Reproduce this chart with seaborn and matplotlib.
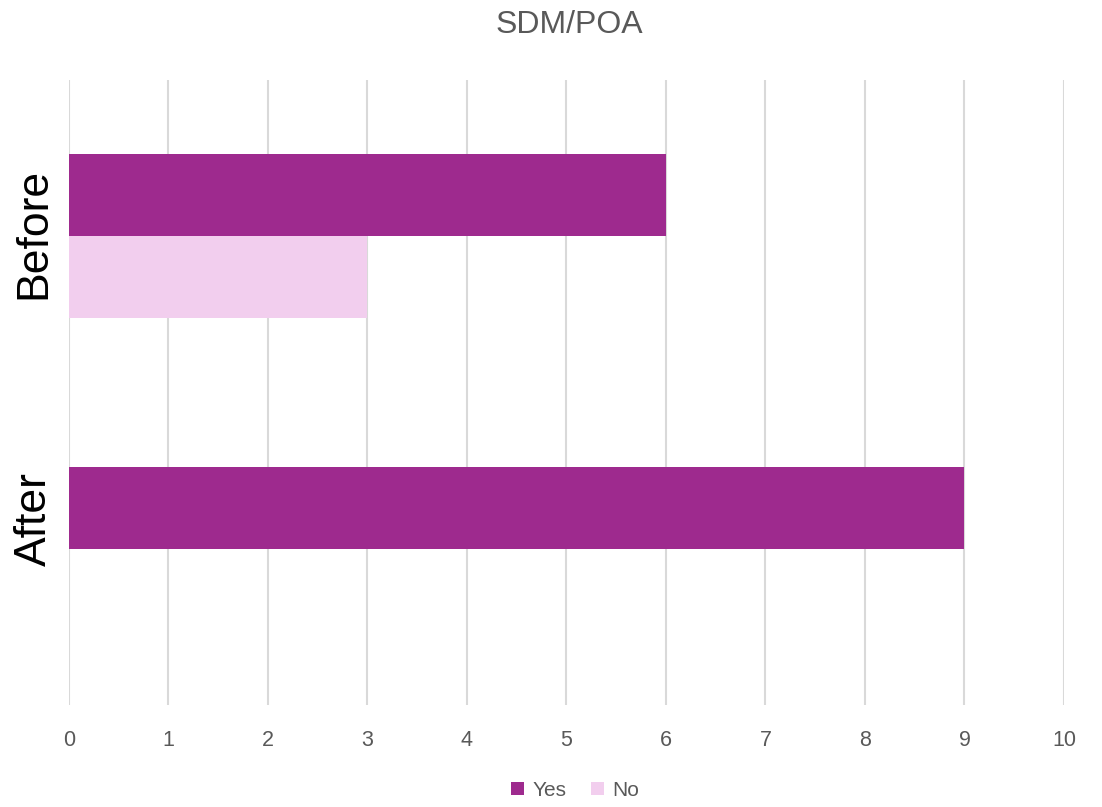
import pandas as pd
import matplotlib
matplotlib.use('Agg')
import matplotlib.pyplot as plt
import seaborn as sns

# data
stages = ['Before', 'After']
yes_counts = [6, 9]
no_counts = [3, 0]
answers = ['Yes', 'No']
colors = ['#9E2A8E', '#F2CEEE']

df = pd.DataFrame({
    'Stage': stages * 2,
    'Answer': ['Yes'] * len(stages) + ['No'] * len(stages),
    'Count': yes_counts + no_counts,
})

sns.set_style('white')
plt.rcParams['font.family'] = ['Liberation Sans', 'DejaVu Sans']

fig = plt.figure(figsize=(11.02, 8.07), dpi=100)
ax = fig.add_axes([0.0626, 0.1264, 0.9029, 0.7745])

sns.barplot(data=df, y='Stage', x='Count', hue='Answer', order=stages,
            hue_order=answers, palette=colors, orient='h', width=0.525,
            linewidth=0, saturation=1, ax=ax)

ax.set_xlim(0, 10)
ax.set_xticks(range(0, 11))
ax.set_xlabel('')
ax.set_ylabel('')
ax.grid(axis='x', color='#D9D9D9', linewidth=1.5)
ax.grid(axis='y', visible=False)
ax.set_axisbelow(True)
for s in ax.spines.values():
    s.set_visible(False)

ax.tick_params(axis='x', length=0, labelsize=15.5, labelcolor='#595959', pad=18)
ax.tick_params(axis='y', length=0, labelleft=False)

# category labels, rotated, placed the way the original chart has them
label_shift = [3, 30]  # pixels upward from category centre
for i, stage in enumerate(stages):
    ax.annotate(stage, xy=(0, i), xycoords=('axes fraction', 'data'),
                xytext=(-35, label_shift[i]), textcoords='offset pixels',
                rotation=90, ha='center', va='center', fontsize=32, color='black')

fig.text(0.517, 0.969, 'SDM/POA', ha='center', va='center', fontsize=23, color='#595959')

handles, labels = ax.get_legend_handles_labels()
ax.legend_.remove()
fig.legend(handles, labels, loc='center', bbox_to_anchor=(0.522, 0.021), ncol=2,
           frameon=False, fontsize=15, labelcolor='#595959', handlelength=0.6,
           handleheight=0.6, handletextpad=0.4, columnspacing=1.2)

fig.savefig('out.png', dpi=100)
